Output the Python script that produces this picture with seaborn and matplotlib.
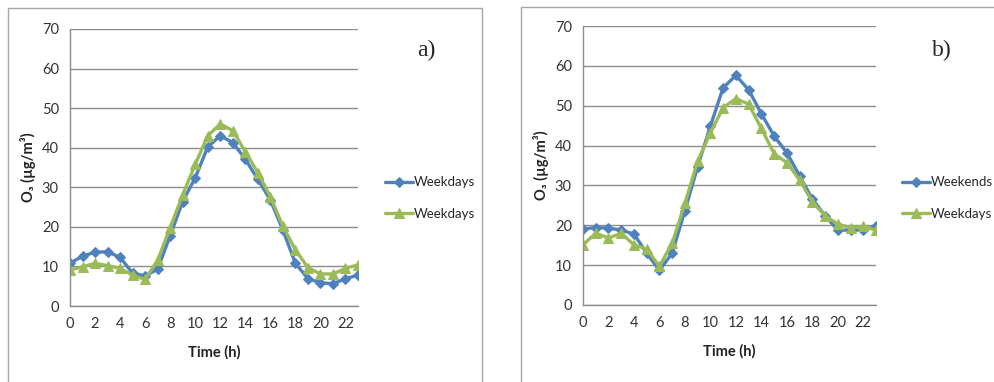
import numpy as np
import pandas as pd
import matplotlib
matplotlib.use("Agg")
import matplotlib.pyplot as plt
from matplotlib.patches import Rectangle
import seaborn as sns

# hourly O3 (ug/m3)
hours = list(range(24))
a_blue = [10.8, 12.6, 13.6, 13.7, 12.3, 8.3, 7.6, 9.3, 17.8, 26.4, 32.4, 40.2,
          43.0, 41.3, 37.1, 32.0, 26.8, 19.2, 10.8, 6.9, 5.9, 5.6, 6.9, 7.8]
a_green = [9.1, 9.9, 10.8, 10.2, 9.5, 7.8, 6.7, 11.6, 19.8, 28.1, 35.8, 43.0,
           46.0, 44.3, 39.0, 33.7, 27.6, 20.2, 14.2, 9.7, 8.1, 8.1, 9.5, 10.4]
b_blue = [19.1, 19.4, 19.3, 18.8, 17.8, 13.0, 8.7, 13.0, 23.7, 34.7, 44.9, 54.5,
          57.6, 54.0, 48.0, 42.4, 38.2, 32.4, 26.6, 22.4, 18.8, 18.8, 18.8, 19.7]
b_green = [15.1, 18.0, 16.8, 18.0, 15.1, 14.0, 9.7, 15.5, 25.5, 36.1, 43.2, 49.5,
           51.8, 50.4, 44.3, 38.0, 35.7, 31.4, 25.9, 22.4, 20.3, 19.4, 19.7, 18.8]
a_labels = ["Weekdays", "Weekdays"]
b_labels = ["Weekends", "Weekdays"]
yticks = list(range(0, 71, 10))
xticks = list(range(0, 23, 2))

sns.set_theme(style="white")
plt.rcParams['font.family'] = ['Lato', 'DejaVu Sans']

BLUE = "#4f81bd"
GREEN = "#9bbb59"
GRID = "#8c8c8c"

fig = plt.figure(figsize=(9.94, 3.82), dpi=100)

# outer frames
fig.patches.append(Rectangle((8/994, -0.05), 474/994, 1 - 8/382 + 0.05,
                             transform=fig.transFigure, fill=False,
                             edgecolor="#a6a6a6", lw=1))
fig.patches.append(Rectangle((521/994, -0.05), 0.6, 1 - 7/382 + 0.05,
                             transform=fig.transFigure, fill=False,
                             edgecolor="#a6a6a6", lw=1))


def panel(rect, blue, green, labels, tag, leg_x, tag_x):
    ax = fig.add_axes(rect)
    df = pd.DataFrame({"hour": hours, "blue": blue, "green": green})
    sns.lineplot(data=df, x="hour", y="blue", ax=ax, color=BLUE, lw=2.4,
                 marker="D", markersize=5.5, markeredgecolor=BLUE, label=labels[0])
    sns.lineplot(data=df, x="hour", y="green", ax=ax, color=GREEN, lw=2.4,
                 marker="^", markersize=7, markeredgecolor=GREEN, label=labels[1])
    ax.set_xlim(0, 23)
    ax.set_ylim(0, 70)
    ax.set_xticks(xticks)
    ax.set_yticks(yticks)
    ax.yaxis.grid(True, color=GRID, lw=1)
    ax.set_axisbelow(True)
    for s in ["top", "right"]:
        ax.spines[s].set_visible(False)
    for s in ["left", "bottom"]:
        ax.spines[s].set_color(GRID)
        ax.spines[s].set_linewidth(1)
    ax.tick_params(length=0, labelsize=10.5, colors="#333333", pad=8)
    ax.set_xlabel("Time (h)", fontsize=10.5, fontweight="bold", labelpad=10,
                  color="#222222")
    ax.set_ylabel("O₃ (µg/m³)", fontsize=10.5, fontweight="bold", labelpad=4,
                  color="#222222")
    ax.legend(loc="center left", bbox_to_anchor=(leg_x, 1 - 198/382),
              bbox_transform=fig.transFigure, frameon=False, fontsize=9.5,
              handlelength=2.1, handletextpad=0.1, labelspacing=1.45,
              borderaxespad=0, borderpad=0)
    fig.text(tag_x, 1 - 50/382, tag, family=['Liberation Serif', 'DejaVu Serif'],
             fontsize=17, ha="left", va="center")
    return ax


panel([70/994, 1 - 306/382, 288/994, 277/382], a_blue, a_green, a_labels,
      "a)", 385/994, 417/994)
panel([583/994, 1 - 305/382, 293/994, 279/382], b_blue, b_green, b_labels,
      "b)", 902/994, 932/994)

fig.savefig("out.png", dpi=100)
